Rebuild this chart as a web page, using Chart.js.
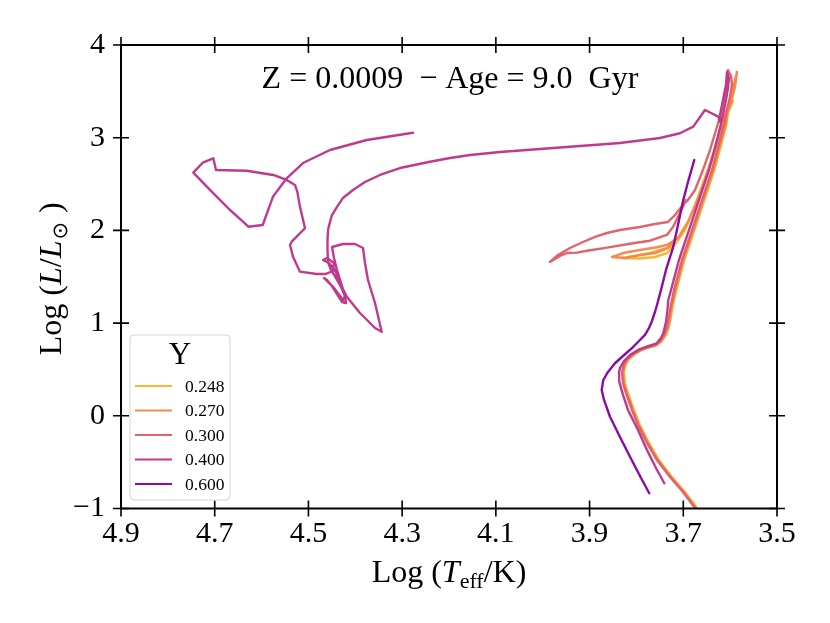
<!DOCTYPE html>
<html>
<head>
<meta charset="utf-8">
<script src="https://cdn.jsdelivr.net/npm/chart.js@4.4.1/dist/chart.umd.min.js"></script>
<style>
  html, body { margin: 0; padding: 0; background: #fff; }
  #wrap { width: 830px; height: 623px; }
</style>
</head>
<body>
<div id="wrap"><canvas id="hr" width="830" height="623"></canvas></div>
<script>
// helium abundance of each isochrone, as in the legend
const heliumLabels = ['0.248', '0.270', '0.300', '0.400', '0.600'];
const trackColors = ['#fdb42f', '#f68a4b', '#e0646a', '#bf3a8b', '#8c0ba6'];
const xTicks = [3.5, 3.7, 3.9, 4.1, 4.3, 4.5, 4.7, 4.9];
const yTicks = [-1, 0, 1, 2, 3, 4];
const titleText = 'Z = 0.0009  \u2212 Age = 9.0  Gyr';

// points are [log Teff, log L/Lsun]
const track0248 = [
  [3.6625,-1.081],[3.6710,-0.994],[3.6966,-0.822],[3.7244,-0.660],[3.7521,-0.477],[3.7735,-0.293],
  [3.7927,-0.099],[3.8055,0.063],[3.8183,0.246],[3.8247,0.354],[3.8268,0.473],[3.8225,0.559],
  [3.8161,0.613],[3.8033,0.667],[3.7884,0.710],[3.7713,0.742],[3.7564,0.764],[3.7457,0.807],
  [3.7372,0.872],[3.7308,0.958],[3.7265,1.066],[3.7222,1.195],
  [3.7148,1.357],[3.7063,1.519],[3.6978,1.681],[3.6871,1.843],[3.6764,2.004],[3.6658,2.166],
  [3.6551,2.328],[3.6444,2.490],[3.6338,2.652],[3.6252,2.813],[3.6167,2.975],[3.6081,3.137],
  [3.6046,3.277],[3.5982,3.364],[3.5939,3.396],
  [3.6067,3.245],[3.6259,2.975],[3.6516,2.598],[3.6750,2.274],[3.6964,2.004],[3.7156,1.864],
  [3.7348,1.810],[3.7711,1.756],[3.8031,1.724],[3.8308,1.702],[3.7924,1.697],[3.7604,1.713],
  [3.7348,1.756],[3.7156,1.864]
];
const track0270 = [
  [3.6645,-1.081],[3.6730,-0.994],[3.6986,-0.822],[3.7264,-0.660],[3.7541,-0.477],[3.7755,-0.293],
  [3.7947,-0.099],[3.8075,0.063],[3.8203,0.246],[3.8267,0.354],[3.8288,0.473],[3.8245,0.559],
  [3.8181,0.613],[3.8053,0.667],[3.7904,0.710],[3.7733,0.742],[3.7584,0.764],[3.7477,0.807],
  [3.7392,0.872],[3.7328,0.958],[3.7285,1.066],[3.7242,1.195],
  [3.7168,1.357],[3.7083,1.519],[3.6998,1.681],[3.6891,1.843],[3.6784,2.004],[3.6678,2.166],
  [3.6571,2.328],[3.6464,2.490],[3.6358,2.652],[3.6272,2.813],[3.6187,2.975],[3.6101,3.137],
  [3.6046,3.299],[3.5982,3.374],[3.5897,3.547],[3.5854,3.709],
  [3.6003,3.407],[3.6174,3.137],[3.6388,2.760],[3.6644,2.382],[3.6900,2.091],[3.7113,1.918],
  [3.7348,1.843],[3.7561,1.818],[3.7924,1.789],[3.8287,1.756],[3.8522,1.713],[3.8244,1.702],
  [3.7924,1.735],[3.7604,1.756],[3.7326,1.810],[3.7156,1.918]
];
const track0300 = [
  [3.6665,-1.081],[3.6750,-0.994],[3.7006,-0.822],[3.7284,-0.660],[3.7561,-0.477],[3.7775,-0.293],
  [3.7967,-0.099],[3.8095,0.063],[3.8223,0.246],[3.8287,0.354],[3.8308,0.473],[3.8265,0.559],
  [3.8201,0.613],[3.8073,0.667],[3.7924,0.710],[3.7753,0.742],[3.7604,0.764],[3.7497,0.807],
  [3.7412,0.872],[3.7348,0.958],[3.7305,1.066],[3.7262,1.195],
  [3.7198,1.357],[3.7113,1.519],[3.7028,1.681],[3.6921,1.843],[3.6814,2.004],[3.6708,2.166],
  [3.6601,2.328],[3.6494,2.490],[3.6388,2.652],[3.6302,2.813],[3.6217,2.975],[3.6131,3.137],
  [3.6067,3.299],[3.6003,3.439],[3.5961,3.569],[3.5982,3.666],[3.6046,3.730],
  [3.6089,3.515],[3.6174,3.299],[3.6302,3.083],[3.6430,2.867],[3.6580,2.652],[3.6750,2.436],
  [3.6900,2.328],[3.7006,2.274],[3.7177,2.166],[3.7326,2.091],[3.7604,2.069],[3.7924,2.037],
  [3.8351,2.004],[3.8628,1.972],[3.8884,1.929],[3.9140,1.875],[3.9418,1.810],[3.9674,1.735],
  [3.9845,1.659],[3.9631,1.724],[3.9482,1.756],[3.9269,1.760],[3.9055,1.781],[3.8628,1.814],
  [3.8073,1.861],[3.7711,1.889],[3.7348,1.951],[3.7220,2.037],[3.7070,2.188],[3.6942,2.328]
];
const track0400 = [
  [3.7405,-0.728],[3.7583,-0.563],[3.7775,-0.369],[3.7967,-0.153],[3.8180,0.063],[3.8287,0.225],
  [3.8366,0.368],[3.8372,0.473],[3.8351,0.516],[3.8265,0.591],[3.8137,0.656],[3.7967,0.710],
  [3.7781,0.746],[3.7568,0.782],[3.7476,0.839],[3.7427,0.890],[3.7369,1.012],[3.7337,1.141],
  [3.7320,1.249],
  [3.7262,1.357],[3.7177,1.519],[3.7092,1.681],[3.6985,1.843],[3.6878,2.004],[3.6772,2.166],
  [3.6665,2.328],[3.6558,2.490],[3.6452,2.652],[3.6366,2.813],[3.6281,2.975],[3.6217,3.105],
  [3.6153,3.245],[3.6089,3.407],[3.6046,3.536],[3.6025,3.644],[3.6067,3.709],
  [3.6089,3.569],[3.6153,3.407],[3.6217,3.245],[3.6217,3.173],[3.6253,3.227],[3.6537,3.299],
  [3.6787,3.119],[3.7070,3.048],[3.7497,2.997],[3.8351,2.943],[3.9204,2.911],[4.0058,2.878],
  [4.0912,2.846],[4.1552,2.813],[4.1979,2.781],[4.2406,2.741],[4.3046,2.673],[4.3473,2.598],
  [4.3793,2.522],[4.4049,2.436],[4.4262,2.350],[4.4390,2.253],[4.4497,2.166],[4.4540,2.091],
  [4.4582,2.004],[4.4593,1.897],[4.4593,1.789],[4.4582,1.659],[4.4518,1.573],[4.4412,1.487],
  [4.4305,1.390],[4.4220,1.293],[4.4198,1.217],[4.4284,1.228],[4.4390,1.314],[4.4497,1.400],
  [4.4604,1.465],[4.4668,1.487],[4.4582,1.444],[4.4454,1.379],[4.4326,1.293],[4.4262,1.249],
  [4.4220,1.293],[4.4305,1.433],[4.4390,1.573],[4.4454,1.702],[4.4497,1.821],[4.4262,1.853],
  [4.4006,1.853],[4.3835,1.810],[4.3793,1.648],[4.3729,1.465],[4.3579,1.217],[4.3436,0.907],
  [4.3579,0.947],[4.3900,1.109],[4.4177,1.282],[4.4326,1.433],[4.4433,1.573],[4.4561,1.648],
  [4.4689,1.681],[4.4604,1.702],[4.4454,1.648],[4.4476,1.562],[4.4625,1.530],[4.4824,1.530],
  [4.5180,1.555],[4.5329,1.716],[4.5393,1.843],[4.5357,1.878],[4.5073,2.023],[4.5180,2.256],
  [4.5238,2.418],[4.5287,2.490],[4.5464,2.544],[4.5750,2.598],[4.6317,2.644],[4.6973,2.652],
  [4.7030,2.778],[4.7256,2.730],[4.7457,2.623],[4.7064,2.418],[4.6674,2.220],[4.6396,2.094],
  [4.6283,2.040],[4.5976,2.058],[4.5756,2.364],[4.5464,2.562],[4.5116,2.727],[4.4540,2.867],
  [4.3757,2.975],[4.2768,3.054]
];
const track0600 = [
  [3.7726,-0.836],[3.7924,-0.649],[3.8137,-0.441],[3.8351,-0.229],[3.8564,-0.010],[3.8692,0.171],
  [3.8741,0.279],[3.8707,0.386],[3.8607,0.473],[3.8458,0.567],[3.8287,0.645],[3.8101,0.728],
  [3.7945,0.807],[3.7817,0.872],[3.7732,0.947],[3.7674,1.015],[3.7604,1.120],[3.7561,1.195],
  [3.7476,1.357],[3.7369,1.573],[3.7213,1.824],[3.7113,2.058],[3.7000,2.328],[3.6900,2.522],
  [3.6765,2.759]
];

const tracks = [track0248, track0270, track0300, track0400, track0600];
const serif = '"Liberation Serif", "Times New Roman", serif';

// draws several text pieces in a row, centred on x, baseline at y
function drawRuns(ctx, runs, x, y) {
  let total = 0;
  runs.forEach(function (r) {
    ctx.font = r.font;
    total += ctx.measureText(r.text).width + (r.gap || 0);
  });
  let cx = x - total / 2;
  runs.forEach(function (r) {
    ctx.font = r.font;
    ctx.fillText(r.text, cx, y + (r.dy || 0));
    cx += ctx.measureText(r.text).width + (r.gap || 0);
  });
}

const decorations = {
  id: 'decorations',
  afterDraw(chart) {
    const ctx = chart.ctx;
    const a = chart.chartArea;
    const xs = chart.scales.x;
    const ys = chart.scales.y;
    ctx.save();

    // frame and ticks crossing every spine
    ctx.strokeStyle = '#000';
    ctx.lineWidth = 2;
    ctx.strokeRect(a.left, a.top, a.right - a.left, a.bottom - a.top);
    ctx.lineWidth = 1.6;
    ctx.beginPath();
    xTicks.forEach(function (v) {
      const px = xs.getPixelForValue(v);
      ctx.moveTo(px, a.bottom - 8); ctx.lineTo(px, a.bottom + 8);
      ctx.moveTo(px, a.top - 8); ctx.lineTo(px, a.top + 8);
    });
    yTicks.forEach(function (v) {
      const py = ys.getPixelForValue(v);
      ctx.moveTo(a.left - 8, py); ctx.lineTo(a.left + 8, py);
      ctx.moveTo(a.right - 8, py); ctx.lineTo(a.right + 8, py);
    });
    ctx.stroke();

    ctx.fillStyle = '#000';
    ctx.textAlign = 'left';
    ctx.textBaseline = 'alphabetic';

    // title inside the plot
    drawRuns(ctx, [{ text: titleText, font: '32px ' + serif }], (a.left + a.right) / 2 + 1, 88);

    // axis titles
    drawRuns(ctx, [
      { text: 'Log (', font: '32px ' + serif },
      { text: 'T', font: 'italic 32px ' + serif },
      { text: 'eff', font: '22px ' + serif, dy: 6 },
      { text: '/K)', font: '32px ' + serif }
    ], (a.left + a.right) / 2, 582);

    ctx.save();
    ctx.translate(61, (a.top + a.bottom) / 2 + 2);
    ctx.rotate(-Math.PI / 2);
    drawRuns(ctx, [
      { text: 'Log (', font: '32px ' + serif },
      { text: 'L', font: 'italic 32px ' + serif },
      { text: '/', font: '32px ' + serif },
      { text: 'L', font: 'italic 32px ' + serif, gap: 1 },
      { text: '\u2299', font: '21px "DejaVu Sans", sans-serif', dy: 6, gap: 9 },
      { text: ')', font: '32px ' + serif }
    ], 0, 0);
    ctx.restore();

    // legend box in the lower left corner
    const lx = a.left + 9, ly = 335, lw = 100, lh = 165;
    ctx.beginPath();
    ctx.roundRect(lx, ly, lw, lh, 4);
    ctx.fillStyle = 'rgba(255,255,255,0.8)';
    ctx.fill();
    ctx.strokeStyle = '#d6d6d6';
    ctx.lineWidth = 1;
    ctx.stroke();

    ctx.fillStyle = '#000';
    ctx.textAlign = 'center';
    ctx.font = '31px ' + serif;
    ctx.fillText('Y', lx + lw / 2, 364);

    ctx.textAlign = 'left';
    ctx.textBaseline = 'middle';
    ctx.font = '17.5px ' + serif;
    heliumLabels.forEach(function (label, i) {
      const rowY = 386 + i * 24.5;
      ctx.strokeStyle = trackColors[i];
      ctx.lineWidth = 2;
      ctx.beginPath();
      ctx.moveTo(lx + 5, rowY);
      ctx.lineTo(lx + 42, rowY);
      ctx.stroke();
      ctx.fillText(label, lx + 55, rowY + 1);
    });

    ctx.restore();
  }
};

const datasets = tracks.map(function (track, i) {
  return {
    label: heliumLabels[i],
    data: track.map(function (p) { return { x: p[0], y: p[1] }; }),
    showLine: true,
    borderColor: trackColors[i],
    backgroundColor: trackColors[i],
    borderWidth: 2.4,
    borderJoinStyle: 'round',
    borderCapStyle: 'round',
    pointRadius: 0,
    tension: 0,
    order: tracks.length - 1 - i
  };
});

const tickFont = { family: serif, size: 30 };

new Chart(document.getElementById('hr').getContext('2d'), {
  type: 'scatter',
  data: { datasets: datasets },
  options: {
    responsive: false,
    animation: false,
    layout: { padding: { top: 45, right: 53, left: 0, bottom: 0 } },
    plugins: { legend: { display: false }, tooltip: { enabled: false } },
    scales: {
      x: {
        type: 'linear',
        reverse: true,
        min: 3.5,
        max: 4.9,
        grid: { display: false, drawTicks: false },
        border: { display: false },
        afterBuildTicks: function (scale) {
          scale.ticks = xTicks.map(function (v) { return { value: v }; });
        },
        afterFit: function (scale) { scale.height = 114.5; },
        ticks: {
          font: tickFont,
          color: '#000',
          padding: 8,
          maxRotation: 0,
          callback: function (v) { return Number(v).toFixed(1); }
        }
      },
      y: {
        type: 'linear',
        min: -1,
        max: 4,
        grid: { display: false, drawTicks: false },
        border: { display: false },
        afterBuildTicks: function (scale) {
          scale.ticks = yTicks.map(function (v) { return { value: v }; });
        },
        afterFit: function (scale) { scale.width = 121; },
        ticks: {
          font: tickFont,
          color: '#000',
          padding: 16,
          callback: function (v) { return v < 0 ? '\u2212' + Math.abs(v) : String(v); }
        }
      }
    }
  },
  plugins: [decorations]
});
</script>
</body>
</html>
